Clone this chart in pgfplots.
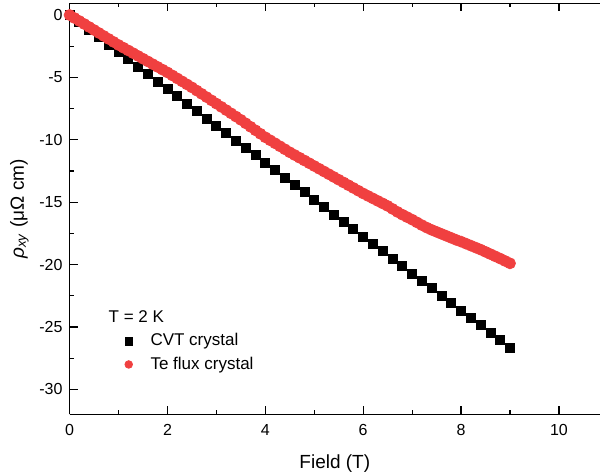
\documentclass[border=0pt]{standalone}
\usepackage{pgfplots}
\pgfplotsset{compat=1.18}
\usepackage{fontspec}
\setmainfont{Liberation Sans}
\definecolor{fluxred}{RGB}{240,64,64}

\begin{document}
\begin{tikzpicture}
\begin{axis}[
  scale only axis, width=265.2pt, height=205.5pt,
  xmin=0, xmax=10.84, ymin=-32, ymax=0.94,
  axis x line*=box, axis y line*=left,
  xtick={0,2,...,10}, ytick={-30,-25,...,0},
  minor x tick num=1, minor y tick num=1,
  tick align=inside, major tick length=4pt, minor tick length=2pt,
  tick style={black, line width=0.6pt}, axis line style={line width=0.6pt},
  /pgf/number format/assume math mode=true,
  ticklabel style={font=\fontsize{8}{9.6}\selectfont},
  xticklabel style={yshift=-1.5pt},
  xlabel={Field (T)}, ylabel={\textit{ρ}\textsubscript{\textit{xy}} (μΩ cm)},
  label style={font=\fontsize{9.5}{11}\selectfont},
  xlabel style={yshift=-2.5pt}, ylabel style={yshift=-1.5pt},
  clip=false,
  legend cell align=left,
  legend image post style={mark size=1.9pt},
  legend style={draw=none, fill=none, at={(axis cs:1.0,-24.85)}, anchor=north west,
    font=\fontsize{8.5}{10}\selectfont, row sep=0pt, column sep=7pt},
]
\addplot[only marks, mark=square*, mark size=2.25pt, black] table {
x y
0.0 0
0.2 -0.59
0.4 -1.18
0.6 -1.78
0.8 -2.37
1.0 -2.96
1.2 -3.55
1.4 -4.14
1.6 -4.74
1.8 -5.33
2.0 -5.92
2.2 -6.51
2.4 -7.10
2.6 -7.70
2.8 -8.29
3.0 -8.88
3.2 -9.47
3.4 -10.06
3.6 -10.66
3.8 -11.25
4.0 -11.84
4.2 -12.43
4.4 -13.02
4.6 -13.62
4.8 -14.21
5.0 -14.80
5.2 -15.39
5.4 -15.98
5.6 -16.58
5.8 -17.17
6.0 -17.76
6.2 -18.35
6.4 -18.94
6.6 -19.54
6.8 -20.13
7.0 -20.72
7.2 -21.31
7.4 -21.90
7.6 -22.50
7.8 -23.09
8.0 -23.68
8.2 -24.27
8.4 -24.86
8.6 -25.46
8.8 -26.05
9.0 -26.64
};
\addlegendentry{CVT crystal}
\addplot[only marks, mark=*, mark size=2.75pt, fluxred, mark options={draw=none, fill=fluxred}] table {
x y
0.0 0
0.1 -0.24
0.2 -0.48
0.3 -0.72
0.4 -0.96
0.5 -1.20
0.6 -1.44
0.7 -1.68
0.8 -1.92
0.9 -2.16
1.0 -2.40
1.1 -2.62
1.2 -2.84
1.3 -3.06
1.4 -3.28
1.5 -3.50
1.6 -3.72
1.7 -3.94
1.8 -4.16
1.9 -4.38
2.0 -4.60
2.1 -4.84
2.2 -5.08
2.3 -5.32
2.4 -5.56
2.5 -5.80
2.6 -6.06
2.7 -6.32
2.8 -6.58
2.9 -6.84
3.0 -7.10
3.1 -7.36
3.2 -7.62
3.3 -7.88
3.4 -8.14
3.5 -8.40
3.6 -8.68
3.7 -8.96
3.8 -9.24
3.9 -9.52
4.0 -9.80
4.1 -10.04
4.2 -10.28
4.3 -10.52
4.4 -10.76
4.5 -11.00
4.6 -11.22
4.7 -11.44
4.8 -11.66
4.9 -11.88
5.0 -12.10
5.1 -12.32
5.2 -12.54
5.3 -12.76
5.4 -12.98
5.5 -13.20
5.6 -13.42
5.7 -13.64
5.8 -13.86
5.9 -14.08
6.0 -14.30
6.1 -14.50
6.2 -14.70
6.3 -14.90
6.4 -15.10
6.5 -15.30
6.6 -15.54
6.7 -15.78
6.8 -16.00
6.9 -16.20
7.0 -16.40
7.1 -16.62
7.2 -16.84
7.3 -17.04
7.4 -17.22
7.5 -17.38
7.6 -17.54
7.7 -17.70
7.8 -17.86
7.9 -18.02
8.0 -18.16
8.1 -18.32
8.2 -18.48
8.3 -18.64
8.4 -18.80
8.5 -18.98
8.6 -19.16
8.7 -19.34
8.8 -19.52
8.9 -19.71
9.0 -19.90
};
\addlegendentry{Te flux crystal}
\node[anchor=west, font=\fontsize{8.5}{10}\selectfont, inner sep=0pt] at (axis cs:0.79,-24.2) {T = 2 K};
\end{axis}
\pgfresetboundingbox
\path[use as bounding box] ([xshift=-34.8pt,yshift=-30.3pt]current axis.south west) rectangle ([yshift=1.65pt]current axis.north east);
\end{tikzpicture}
\end{document}
